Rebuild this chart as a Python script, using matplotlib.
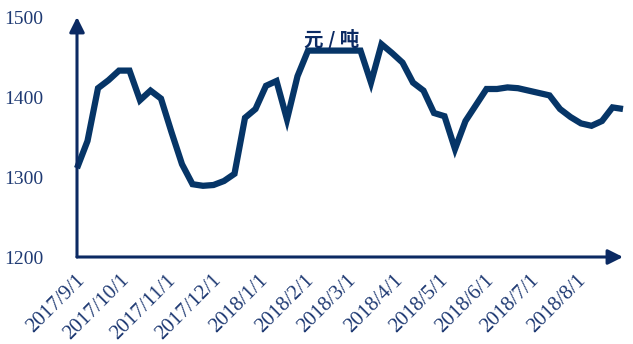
import matplotlib
matplotlib.use("Agg")
import matplotlib.pyplot as plt
import matplotlib.dates as mdates
import matplotlib.transforms as mtransforms
import numpy as np
import pandas as pd

# Weekly price series (元/吨), starting 2017-09-01
start_date = "2017-09-01"
prices = [
    1311, 1345, 1411, 1421, 1433, 1433, 1396, 1408, 1398, 1356,
    1316, 1291, 1289, 1290, 1295, 1304, 1374, 1385, 1414, 1420,
    1372, 1426, 1458, 1458, 1458, 1458, 1458, 1458, 1418, 1466,
    1455, 1443, 1418, 1408, 1380, 1376, 1335, 1370, 1390, 1410,
    1410, 1412, 1411, 1408, 1405, 1402, 1385, 1375, 1367, 1364,
    1370, 1387, 1385,
]
tick_labels = ["2017/9/1", "2017/10/1", "2017/11/1", "2017/12/1",
               "2018/1/1", "2018/2/1", "2018/3/1", "2018/4/1",
               "2018/5/1", "2018/6/1", "2018/7/1", "2018/8/1"]
y_ticks = [1200, 1300, 1400, 1500]
unit_label = "元 / 吨"

dates = pd.date_range(start_date, periods=len(prices), freq="7D")
tick_dates = pd.to_datetime(tick_labels, format="%Y/%m/%d")

line_color = "#063567"
text_color = "#1f3a73"
axis_color = "#0b2a63"

W, H = 633, 344
fig = plt.figure(figsize=(W / 100, H / 100), dpi=100)
left, right, top, bottom = 77, 623, 17, 257
ax = fig.add_axes([left / W, 1 - bottom / H, (right - left) / W, (bottom - top) / H])

x = mdates.date2num(dates)
ax.plot(x, prices, color=line_color, lw=4.5, solid_joinstyle="miter",
        solid_capstyle="butt", clip_on=False)

ax.set_ylim(1200, 1500)
ax.set_xlim(x[0], x[-1])
ax.set_yticks(y_ticks)
ax.set_yticklabels([str(v) for v in y_ticks], family="Liberation Serif",
                   fontsize=14, color=text_color)
ax.set_xticks(mdates.date2num(tick_dates))
ax.set_xticklabels(tick_labels, family="Liberation Serif", fontsize=15,
                   color=text_color, rotation=45, ha="right", va="top",
                   rotation_mode="anchor")
ax.tick_params(axis="both", length=0)
ax.tick_params(axis="y", pad=24)
ax.tick_params(axis="x", pad=10)
shift = mtransforms.ScaledTranslation(-2 / 100, 0, fig.dpi_scale_trans)
for lab in ax.get_xticklabels():
    lab.set_transform(lab.get_transform() + shift)

for s in ax.spines.values():
    s.set_visible(False)

# Axis lines with arrowheads
ax.annotate("", xy=(1.0, 0), xytext=(0, 0), xycoords="axes fraction",
            arrowprops=dict(arrowstyle="-|>,head_length=0.9,head_width=0.45",
                            color=axis_color, lw=2.2, shrinkA=0, shrinkB=0))
ax.annotate("", xy=(0, 1.0), xytext=(0, 0), xycoords="axes fraction",
            arrowprops=dict(arrowstyle="-|>,head_length=0.9,head_width=0.45",
                            color=axis_color, lw=2.2, shrinkA=0, shrinkB=0))

ax.text(0.467, 0.906, unit_label, transform=ax.transAxes,
        family=["Noto Sans CJK SC", "DejaVu Sans"], fontsize=14,
        fontweight="bold", color=axis_color, ha="center", va="center")

fig.savefig("out.png", dpi=100)
